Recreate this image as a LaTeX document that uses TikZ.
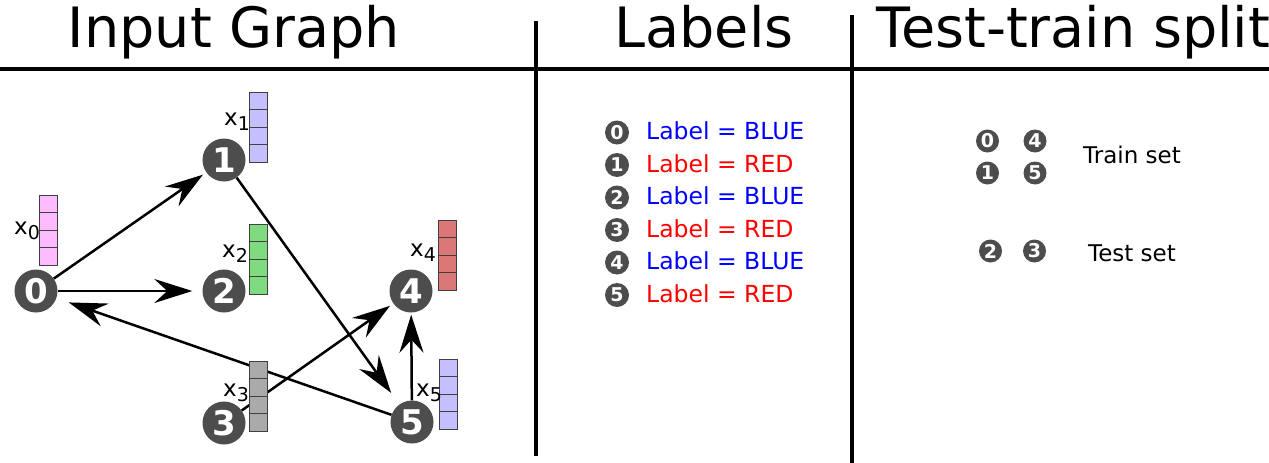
\documentclass[tikz,border=0pt]{standalone}
\usepackage{fontspec}
\setmainfont{DejaVu Sans}
\usetikzlibrary{arrows.meta}
\definecolor{nodegray}{HTML}{4D4D4D}
\definecolor{featpink}{HTML}{FFBBFF}
\definecolor{featlilac}{HTML}{C4C0FF}
\definecolor{featgreen}{HTML}{7FDB7F}
\definecolor{featgray}{HTML}{AAAAAA}
\definecolor{featred}{HTML}{DB7777}

\begin{document}
\begin{tikzpicture}[x=1pt,y=-1pt,>={Stealth[length=38pt,width=24pt,inset=13pt]},
  vert/.style={circle,fill=nodegray,inner sep=0pt,minimum size=43pt,text=white,font=\fontsize{34}{34}\selectfont\bfseries},
  badge/.style={circle,fill=nodegray,inner sep=0pt,minimum size=24pt,text=white,font=\fontsize{19}{19}\selectfont\bfseries},
  cell/.style={draw=black!75,line width=0.8pt,minimum width=18pt,minimum height=17.6pt,inner sep=0pt},
  link/.style={->,line width=2.5pt},
  divider/.style={line width=4pt},
  title/.style={anchor=base,font=\fontsize{55.6}{60}\selectfont},
  feat/.style={anchor=base west,font=\fontsize{23}{23}\selectfont,inner sep=0pt},
  lab/.style={anchor=west,font=\fontsize{23.5}{24}\selectfont,inner sep=0pt},
  setname/.style={font=\fontsize{23}{24}\selectfont,inner sep=0pt}]
\useasboundingbox[fill=white] (0,0) rectangle (1269,463);

\draw[divider] (0,69) -- (1269,69);
\draw[divider] (536,21) -- (536,456);
\draw[divider] (852,15) -- (852,463);

\node[title] (tgraph) at (234,47) {Input Graph};
\node[title] (tlabels) at (704,47) {Labels};
\node[title,anchor=base west] (tsplit) at (873,47) {Test-train split};

% input graph
\node[vert] (n0) at (36,291) {0};
\node[vert] (n1) at (224,160) {1};
\node[vert] (n2) at (224,291) {2};
\node[vert] (n3) at (224,423) {3};
\node[vert] (n4) at (411,291) {4};
\node[vert] (n5) at (412,422) {5};

\draw[link,shorten >=4pt] (n0) -- (n1);
\draw[link,shorten >=10pt] (n0) -- (n2);
\draw[link,shorten >=13pt] (n5) -- (n0);
\draw[link,shorten >=14pt] (n1) -- (n5);
\draw[link,shorten >=4pt] (n3) -- (n4);
\draw[link,shorten >=2pt] (n5) -- (n4);

\foreach \v/\x/\y/\c in {0/48/195/featpink,1/258/92/featlilac,2/258/224/featgreen,
  3/258/361/featgray,4/447/220/featred,5/448/359/featlilac}
  \foreach \k in {0,...,3}
    \node[cell,fill=\c] (x\v-\k) at (\x,\y+\k*17.6+8.8) {};

\node[feat] (f0) at (14,234) {x\raisebox{-5pt}{\fontsize{19}{19}\selectfont 0}};
\node[feat] (f1) at (224,125) {x\raisebox{-5pt}{\fontsize{19}{19}\selectfont 1}};
\node[feat] (f2) at (222,257) {x\raisebox{-5pt}{\fontsize{19}{19}\selectfont 2}};
\node[feat] (f3) at (223,396) {x\raisebox{-5pt}{\fontsize{19}{19}\selectfont 3}};
\node[feat] (f4) at (410,256) {x\raisebox{-5pt}{\fontsize{19}{19}\selectfont 4}};
\node[feat] (f5) at (416,396) {x\raisebox{-5pt}{\fontsize{19}{19}\selectfont 5}};

% labels
\foreach \i/\c/\t in {0/blue/BLUE,1/red/RED,2/blue/BLUE,3/red/RED,4/blue/BLUE,5/red/RED} {
  \node[badge] (b\i) at (617,132.5+\i*32.5) {\i};
  \node[lab,text=\c] (l\i) at (646,131+\i*32.5) {Label = \t};
}

% test-train split
\node[badge,minimum size=23pt] (s0) at (987.5,141) {0};
\node[badge,minimum size=23pt] (s4) at (1035,141) {4};
\node[badge,minimum size=23pt] (s1) at (987.5,173) {1};
\node[badge,minimum size=23pt] (s5) at (1035,173) {5};
\node[badge,minimum size=23pt] (s2) at (990.5,251) {2};
\node[badge,minimum size=23pt] (s3) at (1034.5,251) {3};
\node[setname] (train) at (1132,155) {Train set};
\node[setname] (test) at (1132,253) {Test set};
\end{tikzpicture}
\end{document}
